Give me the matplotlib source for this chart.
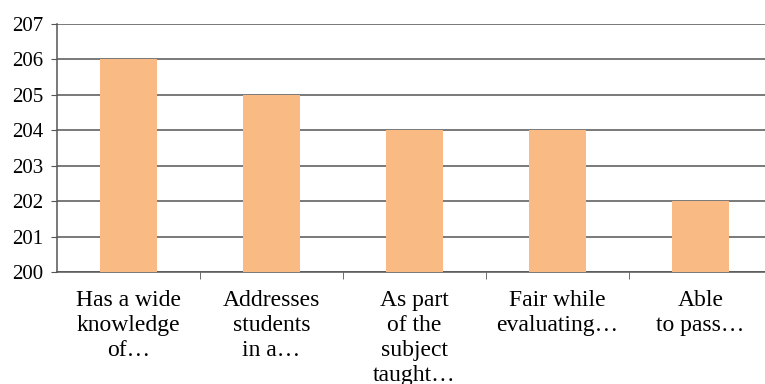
import matplotlib.pyplot as plt
import numpy as np

plt.rcParams['font.family'] = ['Liberation Serif', 'DejaVu Serif']
plt.rcParams['font.size'] = 15

categories = ['Has a wide\nknowledge\nof…', 'Addresses\nstudents\nin a…',
              'As part\nof the\nsubject\ntaught…', 'Fair while\nevaluating…',
              'Able\nto pass…']
values = [206, 205, 204, 204, 202]
yticks = [200, 201, 202, 203, 204, 205, 206, 207]

fig = plt.figure(figsize=(7.65, 3.84), dpi=100)
# right edge is cropped in the reference, axes runs past the figure
ax = fig.add_axes([57 / 765, 1 - 272 / 384, 715 / 765, 248 / 384])

x = np.arange(len(categories))
ax.bar(x, np.array(values) - 200, 0.4, bottom=200, color='#F9BA84', zorder=3)

ax.set_xlim(-0.5, len(categories) - 0.5)
ax.set_ylim(200, 207)
ax.set_yticks(yticks)
ax.grid(axis='y', color='#555555', linewidth=1.1, zorder=0)

ax.set_xticks(x)
ax.set_xticklabels(categories, linespacing=1.25, va='top', fontsize=17)
ax.tick_params(axis='x', length=0, pad=13)
ax.set_xticks(np.arange(0.5, len(categories) - 0.5, 1), minor=True)
ax.tick_params(axis='x', which='minor', length=5, color='#555555')
ax.tick_params(axis='y', length=4, color='#555555', pad=6)

for side in ['top', 'right']:
    ax.spines[side].set_visible(False)
for side in ['left', 'bottom']:
    ax.spines[side].set_color('#555555')
    ax.spines[side].set_linewidth(1.1)

plt.savefig('out.png', dpi=100)
